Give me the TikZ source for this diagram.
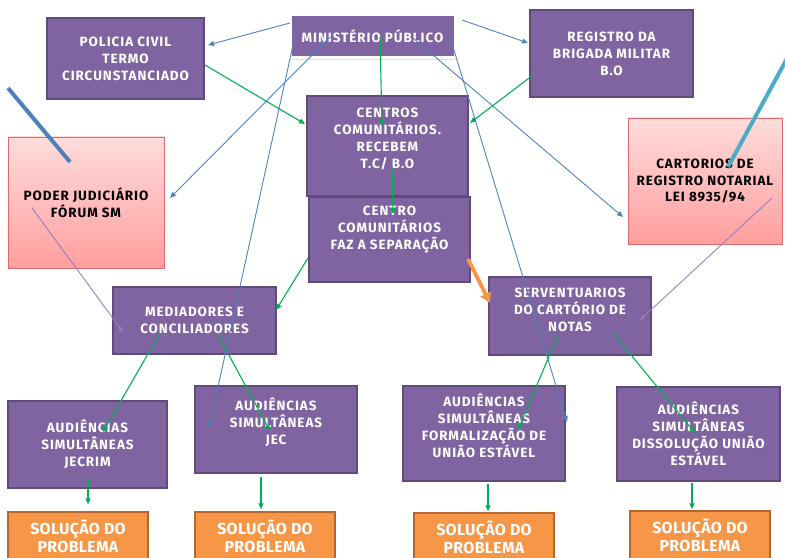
\documentclass[tikz,border=0pt]{standalone}
\usepackage{fontspec}
\setmainfont{Fira Sans}[LetterSpace=7]
\newfontfamily\solfont{Fira Sans}[LetterSpace=2]
\usetikzlibrary{arrows.meta,shadows,calc}
\definecolor{roxo}{HTML}{8064A2}
\definecolor{roxoborda}{HTML}{5E4A7C}
\definecolor{rosaclaro}{HTML}{FFDCDC}
\definecolor{rosaescuro}{HTML}{FF9E9E}
\definecolor{rosaborda}{HTML}{D86C6C}
\definecolor{laranja}{HTML}{F79646}
\definecolor{laranjaborda}{HTML}{B4672F}
\definecolor{azul}{HTML}{4F81BD}
\definecolor{verde}{HTML}{00B050}
\definecolor{ciano}{HTML}{4BACC6}
\definecolor{lilas}{HTML}{9580BC}
\newcommand{\desce}[1]{\rule[-#1]{0pt}{#1}}
\begin{document}
\begin{tikzpicture}[x=1bp, y=-1bp,
        tam/.style 2 args={minimum width=#1bp, minimum height=#2bp},
        caixa/.style={draw=roxoborda, line width=1.5bp, fill=roxo, text=white, align=center, inner sep=2bp,
            font=\fontsize{13.5}{17}\selectfont\bfseries},
        rosa/.style={draw=rosaborda, line width=0.8bp, top color=rosaclaro, bottom color=rosaescuro, text=black,
            align=center, inner sep=2bp, font=\fontsize{13.5}{17}\selectfont\bfseries},
        sol/.style={draw=laranjaborda, line width=1.5bp, fill=laranja, text=white, align=center, inner sep=2bp,
            tam={140}{48}, font=\solfont\fontsize{16}{18}\selectfont\bfseries},
        azulseta/.style={azul, line width=0.9bp, -{Triangle[length=6bp, width=5bp]}},
        verdeseta/.style={verde, line width=1.1bp, -{Triangle[length=6bp, width=5bp]}},
        lilasfio/.style={lilas, line width=0.9bp, -{Triangle[length=5bp, width=4bp]}}]
        \useasboundingbox (0, 0) rectangle (785, 558);
        \node [caixa, tam={157}{81}] (pc) at (125.5, 58.5) {POLICIA CIVIL\\TERMO\\CIRCUNSTANCIADO};
        \node [caixa, tam={165}{43}, draw=white, line width=3bp,
            drop shadow={shadow xshift=2bp, shadow yshift=-2bp, opacity=0.25}] (mp) at (372.5, 36.5) {MINISTÉRIO PÚBLICO};
        \node [caixa, tam={163}{87}] (rbm) at (611.5, 53.5) {REGISTRO DA\\BRIGADA MILITAR\\B.O};
        \node [rosa, tam={156}{131}] (pj) at (86, 202.5) {PODER JUDICIÁRIO\\FÓRUM SM};
        \node [rosa, tam={154}{126}] (cart) at (705, 181) {CARTORIOS DE\\REGISTRO NOTARIAL\\LEI 8935/94};
        \node [caixa, tam={161}{100}] (ccr) at (387.5, 146) {CENTROS\\COMUNITÁRIOS.\\RECEBEM\\T.C/ B.O\desce{15pt}};
        \node [caixa, tam={161}{85}] (cfs) at (389.5, 239.5) {CENTRO\\COMUNITÁRIOS\\FAZ A SEPARAÇÃO\desce{23pt}};
        \node [caixa, tam={163}{67}] (med) at (194.5, 320.5) {MEDIADORES E\\CONCILIADORES};
        \node [caixa, tam={162}{78}] (serv) at (570, 316) {SERVENTUARIOS\\DO CARTÓRIO DE\\NOTAS\desce{12pt}};
        \node [caixa, tam={159}{87}] (jecrim) at (87.5, 444.5) {AUDIÊNCIAS\\SIMULTÂNEAS\\JECRIM};
        \node [caixa, tam={162}{87}] (jec) at (276, 429.5) {AUDIÊNCIAS\\SIMULTÂNEAS\\JEC\desce{16pt}};
        \node [caixa, tam={162}{95}] (form) at (484, 433.5) {AUDIÊNCIAS\\SIMULTÂNEAS\\FORMALIZAÇÃO DE\\UNIÃO ESTÁVEL\desce{16pt}};
        \node [caixa, tam={163}{94}] (diss) at (698.5, 434) {AUDIÊNCIAS\\SIMULTÂNEAS\\DISSOLUÇÃO UNIÃO\\ESTÁVEL};
        \foreach \s/\x/\y in {1/78/536, 2/265/536, 3/484/537, 4/700/535}
            \node [sol] (sol\s) at (\x, \y) {SOLUÇÃO DO\\PROBLEMA};
        \draw [azul, line width=4bp] (8, 88) -- (70, 162);
        \draw [ciano, line width=4bp] (790, 53) -- (728, 167);
        \draw [azulseta] ([shift={(-82.5, -13.5)}]mp.center) -- ([shift={(82.5, -13.5)}]pc.center);
        \draw [azulseta] ([shift={(89.5, -16.5)}]mp.center) -- ([shift={(-83.5, -10.5)}]rbm.center);
        \draw [azulseta] ([shift={(-42.5, 0.5)}]mp.center) -- ([shift={(84, -4.5)}]pj.center);
        \draw [azulseta] ([shift={(-77.5, -0.5)}]mp.center) -- ([shift={(-67, -1.5)}]jec.center);
        \draw [azulseta] ([shift={(40.5, 1.5)}]mp.center) -- ([shift={(-82, 36)}]cart.center);
        \draw [azulseta] ([shift={(77.5, 0.5)}]mp.center) -- ([shift={(83, -11.5)}]form.center);
        \draw [verdeseta] ([shift={(7.5, 0.5)}]mp.center) -- ([shift={(-5.5, -20)}]ccr.center);
        \draw [verdeseta] ([shift={(79.5, 6.5)}]pc.center) -- ([shift={(-82.5, -22)}]ccr.center);
        \draw [verdeseta] ([shift={(-78.5, 21.5)}]rbm.center) -- ([shift={(82.5, -23)}]ccr.center);
        \draw [verdeseta] ([shift={(4.5, 21)}]ccr.center) -- ([shift={(3.5, -25.5)}]cfs.center);
        \draw [verdeseta] ([shift={(-81.5, 18.5)}]cfs.center) -- ([shift={(81.5, -10.5)}]med.center);
        \draw [laranja, line width=4bp, -{Triangle[length=10bp, width=11bp]}] ([shift={(78.5, 19.5)}]cfs.center) -- ([shift={(-80, -13)}]serv.center);
        \draw [verdeseta] ([shift={(-34.5, 12.5)}]med.center) -- ([shift={(15.5, -12.5)}]jecrim.center);
        \draw [verdeseta] ([shift={(22.5, 12.5)}]med.center) -- ([shift={(-6, 1.5)}]jec.center);
        \draw [verdeseta] ([shift={(-12, 19)}]serv.center) -- ([shift={(34, -3.5)}]form.center);
        \draw [verdeseta] ([shift={(43, 17)}]serv.center) -- ([shift={(-3.5, -1)}]diss.center);
        \foreach \a/\b/\x/\da/\db in {jecrim/sol1/88/-10/-7, jec/sol2/261/3/-2, form/sol3/488/2/-1, diss/sol4/692/1/-1}
            \draw [verdeseta] ($(\x, 0 |- \a.south) + (0, \da)$) -- ($(\x, 0 |- \b.north) + (0, \db)$);
        \draw [lilasfio] ([shift={(-54, 5.5)}]pj.center) -- ([shift={(-71.5, 11.5)}]med.center);
        \draw [lilasfio] ([shift={(67, 17)}]cart.center) -- ([shift={(70, 4)}]serv.center);
\end{tikzpicture}
\end{document}
